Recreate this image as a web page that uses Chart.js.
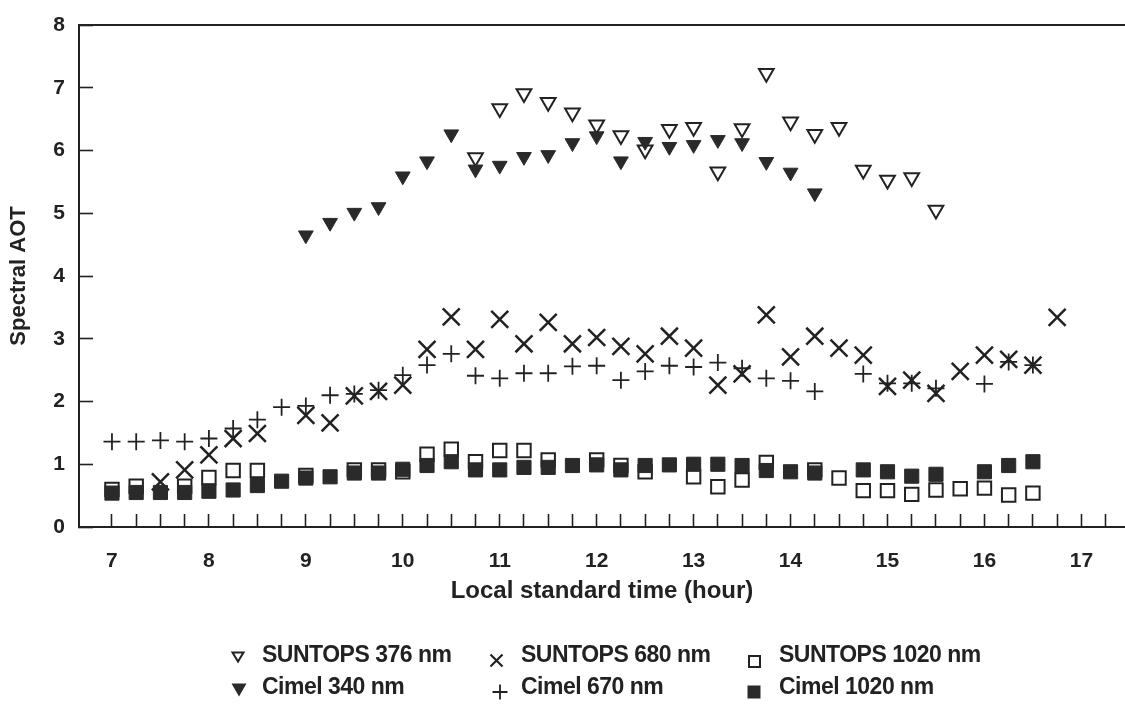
<!DOCTYPE html>
<html>
<head>
<meta charset="utf-8">
<title>Spectral AOT</title>
<script src="https://cdn.jsdelivr.net/npm/chart.js@4.4.1/dist/chart.umd.min.js"></script>
<style>
  html, body { margin: 0; padding: 0; background: #fff; }
  #wrap { position: relative; width: 1125px; height: 709px; overflow: hidden; }
  #chart { position: absolute; left: 0; top: 0; }
  .lg-text {
    position: absolute;
    font-family: "Liberation Sans", Arial, sans-serif;
    font-weight: bold;
    font-size: 23px;
    line-height: 1;
    letter-spacing: -0.5px;
    color: #222;
    white-space: nowrap;
  }
  .lg-mark { position: absolute; overflow: visible; }
</style>
</head>
<body>
<div id="wrap">
  <canvas id="chart" width="1125" height="709"></canvas>

  <svg class="lg-mark" style="left:231px;top:651px" width="14" height="12" viewBox="0 0 14 12">
    <polygon points="1.5,1.5 12.5,1.5 7,10.5" fill="#fff" stroke="#222" stroke-width="2"/>
  </svg>
  <span class="lg-text" style="left:262px;top:643px">SUNTOPS 376 nm</span>

  <svg class="lg-mark" style="left:489px;top:653px" width="15" height="15" viewBox="0 0 15 15">
    <path d="M1.5,1.5 L13.5,13.5 M13.5,1.5 L1.5,13.5" stroke="#222" stroke-width="2.2"/>
  </svg>
  <span class="lg-text" style="left:521px;top:643px">SUNTOPS 680 nm</span>

  <svg class="lg-mark" style="left:748px;top:655px" width="13" height="13" viewBox="0 0 13 13">
    <rect x="1" y="1" width="11" height="11" fill="#fff" stroke="#222" stroke-width="2"/>
  </svg>
  <span class="lg-text" style="left:779px;top:643px">SUNTOPS 1020 nm</span>

  <svg class="lg-mark" style="left:231px;top:683px" width="16" height="14" viewBox="0 0 16 14">
    <polygon points="0.5,0.5 15.5,0.5 8,13.5" fill="#2a2a2a"/>
  </svg>
  <span class="lg-text" style="left:262px;top:675px">Cimel 340 nm</span>

  <svg class="lg-mark" style="left:492px;top:684px" width="16" height="16" viewBox="0 0 16 16">
    <path d="M8,0.5 L8,15.5 M0.5,8 L15.5,8" stroke="#222" stroke-width="1.8"/>
  </svg>
  <span class="lg-text" style="left:521px;top:675px">Cimel 670 nm</span>

  <svg class="lg-mark" style="left:747px;top:685px" width="14" height="14" viewBox="0 0 14 14">
    <rect x="0.5" y="0.5" width="13" height="13" fill="#2a2a2a"/>
  </svg>
  <span class="lg-text" style="left:779px;top:675px">Cimel 1020 nm</span>
</div>

<script>
// ---- Measurements (local standard time in hours, spectral AOT) ----
const suntops376Hours = [10.75, 11.0, 11.25, 11.5, 11.75, 12.0, 12.25, 12.5, 12.75, 13.0, 13.25, 13.5, 13.75, 14.0, 14.25, 14.5, 14.75, 15.0, 15.25, 15.5];
const suntops376AOT   = [5.89, 6.67, 6.91, 6.77, 6.60, 6.41, 6.24, 6.01, 6.34, 6.37, 5.66, 6.35, 7.23, 6.46, 6.26, 6.37, 5.69, 5.53, 5.57, 5.05];

const suntops680Hours = [7.5, 7.75, 8.0, 8.25, 8.5, 9.0, 9.25, 9.5, 9.75, 10.0, 10.25, 10.5, 10.75, 11.0, 11.25, 11.5, 11.75, 12.0, 12.25, 12.5, 12.75, 13.0, 13.25, 13.5, 13.75, 14.0, 14.25, 14.5, 14.75, 15.0, 15.25, 15.5, 15.75, 16.0, 16.25, 16.5, 16.75];
const suntops680AOT   = [0.72, 0.91, 1.15, 1.41, 1.49, 1.78, 1.66, 2.09, 2.16, 2.26, 2.83, 3.35, 2.83, 3.31, 2.92, 3.26, 2.92, 3.02, 2.88, 2.76, 3.04, 2.85, 2.26, 2.44, 3.38, 2.71, 3.04, 2.85, 2.74, 2.24, 2.34, 2.13, 2.48, 2.74, 2.67, 2.58, 3.34];

const suntops1020Hours = [7.0, 7.25, 7.75, 8.0, 8.25, 8.5, 9.0, 9.5, 9.75, 10.0, 10.25, 10.5, 10.75, 11.0, 11.25, 11.5, 12.0, 12.25, 12.5, 13.0, 13.25, 13.5, 13.75, 14.25, 14.5, 14.75, 15.0, 15.25, 15.5, 15.75, 16.0, 16.25, 16.5];
const suntops1020AOT   = [0.60, 0.65, 0.65, 0.79, 0.90, 0.90, 0.82, 0.91, 0.91, 0.88, 1.16, 1.24, 1.04, 1.22, 1.22, 1.07, 1.07, 0.98, 0.88, 0.80, 0.64, 0.75, 1.03, 0.91, 0.78, 0.58, 0.58, 0.52, 0.59, 0.61, 0.62, 0.51, 0.54];

const cimel340Hours = [9.0, 9.25, 9.5, 9.75, 10.0, 10.25, 10.5, 10.75, 11.0, 11.25, 11.5, 11.75, 12.0, 12.25, 12.5, 12.75, 13.0, 13.25, 13.5, 13.75, 14.0, 14.25];
const cimel340AOT   = [4.65, 4.85, 5.01, 5.10, 5.59, 5.83, 6.26, 5.70, 5.76, 5.90, 5.93, 6.12, 6.23, 5.83, 6.14, 6.06, 6.09, 6.17, 6.12, 5.82, 5.65, 5.32];

const cimel670Hours = [7.0, 7.25, 7.5, 7.75, 8.0, 8.25, 8.5, 8.75, 9.0, 9.25, 9.5, 9.75, 10.0, 10.25, 10.5, 10.75, 11.0, 11.25, 11.5, 11.75, 12.0, 12.25, 12.5, 12.75, 13.0, 13.25, 13.5, 13.75, 14.0, 14.25, 14.75, 15.0, 15.25, 15.5, 16.0, 16.25, 16.5];
const cimel670AOT   = [1.36, 1.36, 1.38, 1.36, 1.41, 1.57, 1.71, 1.91, 1.93, 2.10, 2.12, 2.18, 2.42, 2.58, 2.76, 2.41, 2.37, 2.45, 2.45, 2.56, 2.57, 2.34, 2.48, 2.57, 2.55, 2.62, 2.53, 2.37, 2.33, 2.16, 2.44, 2.29, 2.29, 2.21, 2.28, 2.63, 2.58];

const cimel1020Hours = [7.0, 7.25, 7.5, 7.75, 8.0, 8.25, 8.5, 8.75, 9.0, 9.25, 9.5, 9.75, 10.0, 10.25, 10.5, 10.75, 11.0, 11.25, 11.5, 11.75, 12.0, 12.25, 12.5, 12.75, 13.0, 13.25, 13.5, 13.75, 14.0, 14.25, 14.75, 15.0, 15.25, 15.5, 16.0, 16.25, 16.5];
const cimel1020AOT   = [0.54, 0.55, 0.55, 0.55, 0.57, 0.59, 0.66, 0.73, 0.78, 0.80, 0.86, 0.86, 0.92, 0.98, 1.04, 0.91, 0.91, 0.95, 0.95, 0.98, 0.99, 0.91, 0.98, 0.99, 1.00, 1.00, 0.98, 0.90, 0.88, 0.86, 0.91, 0.88, 0.81, 0.84, 0.88, 0.98, 1.04];

// ---- Axis ticks ----
const hourLabels = ['7', '8', '9', '10', '11', '12', '13', '14', '15', '16', '17'];
const aotLabels  = ['0', '1', '2', '3', '4', '5', '6', '7', '8'];

// quarter-hour tick marks from 7:00 to 17:15, labelled on the hour
const quarterTicks = [];
for (let q = 0; q <= 41; q++) quarterTicks.push(7 + q * 0.25);

const ink = '#222';
const fillInk = '#2a2a2a';
const fontFamily = '"Liberation Sans", Arial, sans-serif';

function points(hours, values) {
  return hours.map((h, i) => ({ x: h, y: values[i] }));
}

// keep the plot frame flush: no extra room reserved for overhanging tick labels
function noOverhang(s) {
  s.paddingTop = 0; s.paddingBottom = 0; s.paddingLeft = 0; s.paddingRight = 0;
}

const datasets = [
  {
    label: 'SUNTOPS 376 nm', data: points(suntops376Hours, suntops376AOT),
    pointStyle: 'triangle', pointRotation: 180, pointRadius: 8.5,
    pointBackgroundColor: '#fff', pointBorderColor: ink, pointBorderWidth: 2, order: 2
  },
  {
    label: 'SUNTOPS 680 nm', data: points(suntops680Hours, suntops680AOT),
    pointStyle: 'crossRot', pointRadius: 12,
    pointBackgroundColor: ink, pointBorderColor: ink, pointBorderWidth: 2.5, order: 2
  },
  {
    label: 'SUNTOPS 1020 nm', data: points(suntops1020Hours, suntops1020AOT),
    pointStyle: 'rect', pointRadius: 9.5,
    pointBackgroundColor: '#fff', pointBorderColor: ink, pointBorderWidth: 2, order: 2
  },
  {
    label: 'Cimel 340 nm', data: points(cimel340Hours, cimel340AOT),
    pointStyle: 'triangle', pointRotation: 180, pointRadius: 8.5,
    pointBackgroundColor: fillInk, pointBorderColor: fillInk, pointBorderWidth: 1, order: 1
  },
  {
    label: 'Cimel 670 nm', data: points(cimel670Hours, cimel670AOT),
    pointStyle: 'cross', pointRadius: 8.5,
    pointBackgroundColor: ink, pointBorderColor: ink, pointBorderWidth: 1.8, order: 1
  },
  {
    label: 'Cimel 1020 nm', data: points(cimel1020Hours, cimel1020AOT),
    pointStyle: 'rect', pointRadius: 10,
    pointBackgroundColor: fillInk, pointBorderColor: fillInk, pointBorderWidth: 1, order: 1
  }
];

const tickFont   = { family: fontFamily, size: 21, weight: 'bold' };
const xTitleFont = { family: fontFamily, size: 24, weight: 'bold' };
const yTitleFont = { family: fontFamily, size: 22, weight: 'bold' };

new Chart(document.getElementById('chart'), {
  type: 'scatter',
  data: { datasets },
  options: {
    responsive: false,
    animation: false,
    events: [],
    layout: { autoPadding: false, padding: { top: 25, right: 0, bottom: 0, left: 0 } },
    plugins: { legend: { display: false }, tooltip: { enabled: false } },
    scales: {
      x: {
        type: 'linear', position: 'bottom', min: 6.66, max: 17.45,
        afterBuildTicks: s => { s.ticks = quarterTicks.map(v => ({ value: v })); },
        afterFit: s => { s.height = 182; noOverhang(s); },
        ticks: {
          autoSkip: false, maxRotation: 0, padding: 35, color: ink, font: tickFont,
          callback: v => (Number.isInteger(v) ? hourLabels[v - 7] : '')
        },
        grid: { drawOnChartArea: false, drawTicks: true, tickLength: -13, tickWidth: 1.6, tickColor: ink },
        border: { display: true, color: ink, width: 2 },
        title: {
          display: true, text: 'Local standard time (hour)', color: ink, font: xTitleFont,
          padding: { top: 0, bottom: 103 }
        }
      },
      xTop: {
        type: 'linear', position: 'top', min: 6.66, max: 17.45,
        afterFit: s => { s.height = 0; noOverhang(s); },
        ticks: { display: false },
        grid: { display: false, drawTicks: false },
        border: { display: true, color: ink, width: 2 }
      },
      y: {
        type: 'linear', position: 'left', min: 0, max: 8,
        afterBuildTicks: s => { s.ticks = aotLabels.map(v => ({ value: Number(v) })); },
        afterFit: s => { s.width = 79; noOverhang(s); },
        ticks: {
          padding: 28, color: ink, font: tickFont,
          callback: v => aotLabels[v]
        },
        grid: { drawOnChartArea: false, drawTicks: true, tickLength: -14, tickWidth: 1.6, tickColor: ink },
        border: { display: true, color: ink, width: 2 },
        title: {
          display: true, text: 'Spectral AOT', color: ink, font: yTitleFont,
          padding: { top: 6, bottom: 0 }
        }
      }
    }
  }
});
</script>
</body>
</html>
